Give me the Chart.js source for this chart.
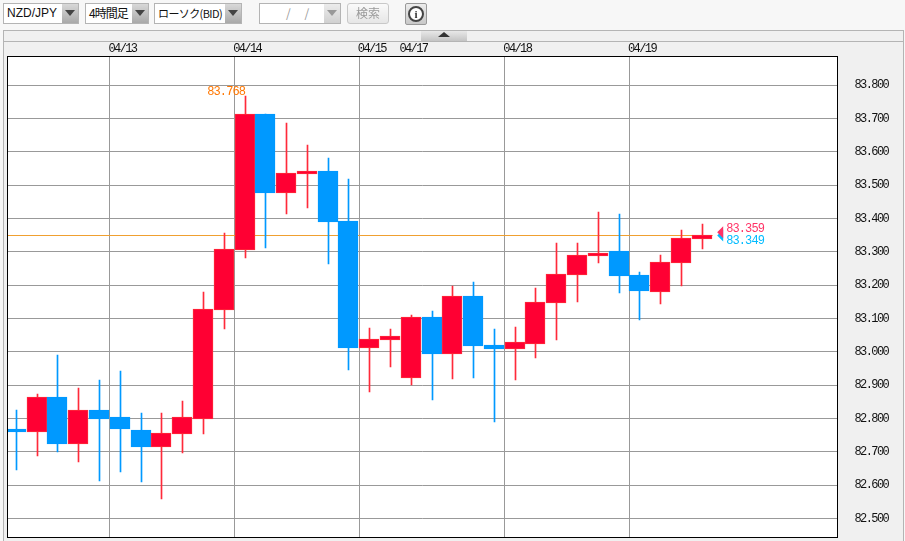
<!DOCTYPE html>
<html lang="ja">
<head>
<meta charset="utf-8">
<title>NZD/JPY</title>
<script src="https://cdn.jsdelivr.net/npm/chart.js@4"></script>
<style>
  html, body { margin: 0; padding: 0; width: 905px; height: 541px; overflow: hidden; background: #f7f7f7; }
  body { font-family: "Noto Sans CJK JP", sans-serif; font-size: 12px; color: #111; }
  .box { position: absolute; box-sizing: border-box; }
  .combo { top: 3px; height: 21px; border: 1px solid #b4b4b4; background: #fff; line-height: 18px; padding-left: 3px; white-space: nowrap; }
  .combo i { position: absolute; right: 0; top: 0; bottom: 0; width: 16px; background: linear-gradient(#d8d8d8, #a9a9a9); }
  .combo i::after { content: ""; position: absolute; left: 3px; top: 6px; border: 5px solid transparent; border-top: 6px solid #444; }
  .combo.off { color: #999; }
  .combo.off i { background: linear-gradient(#ececec, #d0d0d0); }
  .combo.off i::after { border-top-color: #999; }
  #panel { left: 3px; top: 30px; width: 901px; height: 520px; border: 1px solid #b4b4b4; background: #f0f0f0; }
  #strip { left: 3px; top: 41px; width: 901px; height: 1px; background: #b4b4b4; }
  #fold { left: 421px; top: 31px; width: 46px; height: 10px; background: linear-gradient(#e8e8e8, #c4c4c4); }
  #fold::after { content: ""; position: absolute; left: 17px; top: 1px; border: 6px solid transparent; border-top: 0; border-bottom: 5px solid #333; }
  #search { left: 347px; top: 3px; width: 42px; height: 21px; border: 1px solid #c8c8c8; border-radius: 3px; background: linear-gradient(#fafafa, #e6e6e6); color: #999; text-align: center; line-height: 18px; }
  #info { left: 405px; top: 3px; width: 22px; height: 22px; border: 1px solid #999; border-radius: 2px; background: linear-gradient(#ececec, #c8c8c8); }
  #info span { position: absolute; left: 2px; top: 2px; width: 12px; height: 12px; border: 2px solid #444; border-radius: 50%; background: #fff; color: #333; font: bold 11px/12px "Liberation Serif", serif; text-align: center; }
  #chart { position: absolute; left: 0; top: 0; }
</style>
</head>
<body>
<div class="box" id="panel"></div>
<div class="box" id="strip"></div>
<div class="box" id="fold"></div>
<canvas id="chart" width="905" height="541"></canvas>

<div class="box combo" style="left:3px;width:76px;font-family:'Liberation Sans'">NZD/JPY<i></i></div>
<div class="box combo" style="left:85px;width:64px;letter-spacing:-1px">4時間足<i></i></div>
<div class="box combo" style="left:154px;width:88px;font-size:11px;letter-spacing:-0.6px">ローソク(BID)<i></i></div>
<div class="box combo off" style="left:259px;width:82px;padding-left:26px;word-spacing:11px">/ /<i></i></div>
<div class="box" id="search">検索</div>
<div class="box" id="info"><span>i</span></div>

<script>
// 4時間足 ローソク, 左から順に
const opens  = [82.768, 82.759, 82.864, 82.723, 82.825, 82.804, 82.765, 82.714, 82.753, 82.800, 83.125, 83.305, 83.714, 83.477, 83.534, 83.543, 83.393, 83.012, 83.036, 82.921, 83.105, 82.993, 83.167, 83.020, 83.008, 83.023, 83.146, 83.230, 83.287, 83.302, 83.230, 83.179, 83.266, 83.339];
const closes = [82.759, 82.864, 82.723, 82.825, 82.800, 82.768, 82.714, 82.756, 82.804, 83.128, 83.308, 83.714, 83.477, 83.537, 83.543, 83.390, 83.012, 83.039, 83.048, 83.105, 82.993, 83.167, 83.017, 83.008, 83.029, 83.149, 83.233, 83.290, 83.296, 83.227, 83.182, 83.269, 83.341, 83.351];
const highs  = [82.825, 82.873, 82.990, 82.891, 82.915, 82.942, 82.816, 82.816, 82.852, 83.179, 83.356, 83.768, 83.714, 83.687, 83.621, 83.582, 83.519, 83.072, 83.069, 83.111, 83.123, 83.197, 83.209, 83.069, 83.075, 83.191, 83.326, 83.326, 83.420, 83.414, 83.239, 83.290, 83.365, 83.384];
const lows   = [82.645, 82.687, 82.699, 82.669, 82.612, 82.639, 82.609, 82.558, 82.696, 82.753, 83.068, 83.281, 83.312, 83.414, 83.432, 83.264, 82.945, 82.880, 82.954, 82.900, 82.855, 82.918, 82.921, 82.790, 82.915, 82.981, 83.035, 83.149, 83.267, 83.176, 83.095, 83.143, 83.197, 83.309];

const dateTicks  = [4.5, 10.5, 16.5, 18.5, 23.5, 29.5];
const dateLabels = ["04/13", "04/14", "04/15", "04/17", "04/18", "04/19"];
const noGridDates = ["04/17"]; // 週明けは縦線なし
const priceTicks = [82.5, 82.6, 82.7, 82.8, 82.9, 83.0, 83.1, 83.2, 83.3, 83.4, 83.5, 83.6, 83.7, 83.8];

const bidNow = 83.349;
const askNow = 83.359;
const highMark = 83.768;
const highIndex = 11;
const lastIndex = 33;

const RED = "#ff0033";
const RED_LINE = "#ff2a3a";
const BLUE = "#0099ff";
const isUp = (i) => closes[i] >= opens[i];

// プロット枠, 現在値の三角とラベル
const overlay = {
  id: "overlay",
  beforeDraw(chart) {
    const { ctx, chartArea: a } = chart;
    ctx.fillStyle = "#fff";
    ctx.fillRect(a.left, a.top, a.width, a.height);
    ctx.letterSpacing = "-1.6px"; // 元の細いビットマップ数字に寄せる
  },
  beforeDatasetsDraw(chart) {
    // ヒゲと実体をピクセルに揃える (にじみ防止)
    [1, 2].forEach((d) => {
      chart.getDatasetMeta(d).data.forEach((bar) => {
        const px = Math.round(bar.x - 0.5);
        bar.x = d === 1 ? px + 0.5 : px;
        bar.y = Math.round(bar.y);
        bar.base = Math.round(bar.base);
      });
    });
  },
  afterDraw(chart) {
    const { ctx, chartArea: a, scales: { x, y } } = chart;
    ctx.save();
    ctx.strokeStyle = "#000";
    ctx.lineWidth = 1;
    ctx.strokeRect(a.left, a.top, a.width, a.height);

    ctx.font = "12px 'Liberation Mono'";
    ctx.textBaseline = "middle";
    ctx.letterSpacing = "-0.9px";

    ctx.fillStyle = "#ff7700";
    ctx.textAlign = "right";
    ctx.fillText(highMark.toFixed(3), x.getPixelForValue(highIndex), y.getPixelForValue(highMark) - 4);

    const tipX = x.getPixelForValue(lastIndex) + 15;
    const marks = [[bidNow, "#00bbff", 5], [askNow, "#ff3366", -3]];
    marks.forEach(([price, color, shift]) => {
      const py = y.getPixelForValue(price);
      ctx.fillStyle = color;
      ctx.beginPath();
      ctx.moveTo(tipX, py);
      ctx.lineTo(tipX + 6, py - 6);
      ctx.lineTo(tipX + 6, py + 6);
      ctx.closePath();
      ctx.fill();
      ctx.textAlign = "left";
      ctx.fillText(price.toFixed(3), tipX + 9, py + shift);
    });
    ctx.restore();
  }
};

new Chart(document.getElementById("chart"), {
  data: {
    datasets: [
      {
        type: "line",
        data: [{ x: -0.43, y: bidNow }, { x: lastIndex + 0.5, y: bidNow }],
        borderColor: "#f0a030",
        borderWidth: 1,
        pointRadius: 0,
        order: 3
      },
      {
        type: "bar",
        data: highs.map((h, i) => ({ x: i, y: [lows[i], h] })),
        grouped: false,
        barThickness: 1,
        backgroundColor: (c) => (isUp(c.dataIndex) ? RED_LINE : BLUE),
        order: 2
      },
      {
        type: "bar",
        data: opens.map((o, i) => ({ x: i, y: [o, closes[i]] })),
        grouped: false,
        barThickness: 20,
        backgroundColor: (c) => (isUp(c.dataIndex) ? RED : BLUE),
        borderColor: (c) => (isUp(c.dataIndex) ? RED_LINE : BLUE),
        borderWidth: 1,
        borderSkipped: false,
        order: 1
      }
    ]
  },
  options: {
    responsive: false,
    animation: false,
    layout: { padding: { left: 7.5, right: 0, top: 0, bottom: 3.5 } },
    plugins: { legend: { display: false }, tooltip: { enabled: false } },
    scales: {
      x: {
        type: "linear",
        position: "top",
        offset: false,
        min: -0.43,
        max: 39.51,
        afterFit: (s) => { s.height = 56.5; s.paddingLeft = 0; s.paddingRight = 0; },
        afterBuildTicks: (s) => { s.ticks = dateTicks.map((value) => ({ value })); },
        border: { display: false },
        grid: {
          offset: false,
          color: (c) => (noGridDates.includes(dateLabels[c.index]) ? "transparent" : "#999"),
          drawTicks: false
        },
        ticks: {
          autoSkip: false,
          maxRotation: 0,
          align: "start",
          labelOffset: -1.5,
          padding: 0,
          color: "#111",
          font: { family: "Liberation Mono", size: 12 },
          callback: (v, i) => dateLabels[i]
        }
      },
      y: {
        type: "linear",
        position: "right",
        min: 82.443,
        max: 83.886,
        afterFit: (s) => { s.width = 67.5; s.paddingTop = 0; s.paddingBottom = 0; },
        afterBuildTicks: (s) => { s.ticks = priceTicks.map((value) => ({ value })); },
        border: { display: false },
        grid: { color: "#999", drawTicks: false },
        ticks: {
          autoSkip: false,
          padding: 17,
          color: "#111",
          font: { family: "Liberation Mono", size: 12 },
          callback: (v) => v.toFixed(3)
        }
      }
    }
  },
  plugins: [overlay]
});
</script>
</body>
</html>
